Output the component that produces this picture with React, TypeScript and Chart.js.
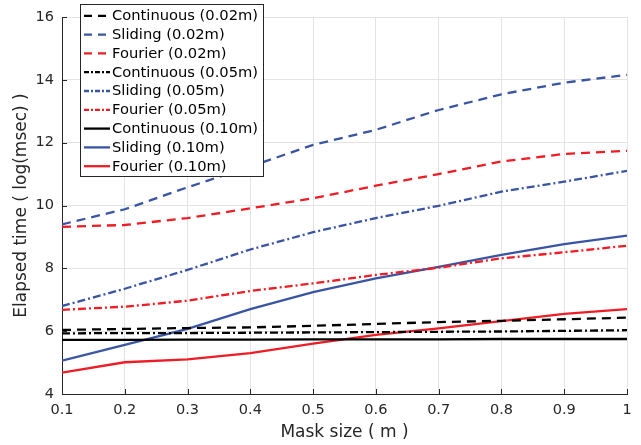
import React, { useEffect, useRef } from "react";
import { Chart, registerables } from "chart.js";

Chart.register(...registerables);

const maskSize = [0.1, 0.2, 0.3, 0.4, 0.5, 0.6, 0.7, 0.8, 0.9, 1.0];
const cont002 = [6.04, 6.07, 6.1, 6.12, 6.17, 6.23, 6.29, 6.33, 6.38, 6.43];
const slid002 = [9.4, 9.88, 10.58, 11.24, 11.93, 12.41, 13.04, 13.54, 13.91, 14.16];
const four002 = [9.32, 9.38, 9.6, 9.91, 10.23, 10.63, 11.0, 11.4, 11.64, 11.74];
const cont005 = [5.93, 5.94, 5.94, 5.95, 5.96, 5.97, 5.98, 5.99, 6.01, 6.03];
const slid005 = [6.8, 7.35, 7.95, 8.6, 9.15, 9.6, 9.99, 10.44, 10.76, 11.1];
const four005 = [6.68, 6.78, 6.97, 7.28, 7.52, 7.79, 8.02, 8.32, 8.51, 8.72];
const cont010 = [5.72, 5.72, 5.73, 5.73, 5.74, 5.74, 5.74, 5.75, 5.75, 5.75];
const slid010 = [5.06, 5.56, 6.07, 6.7, 7.24, 7.68, 8.05, 8.43, 8.77, 9.04];
const four010 = [4.68, 5.01, 5.1, 5.3, 5.6, 5.88, 6.09, 6.32, 6.55, 6.7];

const seriesLabels = [
  "Continuous (0.02m)",
  "Sliding (0.02m)",
  "Fourier (0.02m)",
  "Continuous (0.05m)",
  "Sliding (0.05m)",
  "Fourier (0.05m)",
  "Continuous (0.10m)",
  "Sliding (0.10m)",
  "Fourier (0.10m)",
];
const yTicks = [4, 6, 8, 10, 12, 14, 16];
const xTitle = "Mask size ( m )";
const yTitle = "Elapsed time ( log(msec) )";

const BLACK = "#000000";
const BLUE = "#3a54a4";
const RED = "#ee1d25";
const DASH = [9, 6];
const DASHDOT = [8, 3, 2, 3];
const FONT = "'DejaVu Sans', sans-serif";
const TEXT = "#262626";

const legendPlugin = {
  id: "boxLegend",
  afterDraw(chart: any) {
    const ctx = chart.ctx;
    const x0 = 80.5, y0 = 4.5, x1 = 263.5, y1 = 176.5;
    ctx.save();
    ctx.fillStyle = "#ffffff";
    ctx.fillRect(x0, y0, x1 - x0, y1 - y0);
    ctx.strokeStyle = TEXT;
    ctx.lineWidth = 1;
    ctx.setLineDash([]);
    ctx.strokeRect(x0, y0, x1 - x0, y1 - y0);
    chart.data.datasets.forEach((ds: any, i: number) => {
      const cy = 15.8 + i * 18.8;
      ctx.beginPath();
      ctx.strokeStyle = ds.borderColor;
      ctx.lineWidth = ds.borderWidth;
      ctx.setLineDash(ds.borderDash && ds.borderDash.length ? [7, 4] .concat([]) && (ds.borderDash.length === 2 ? [8, 6] : [5, 2, 2, 2]) : []);
      ctx.moveTo(84, cy);
      ctx.lineTo(110, cy);
      ctx.stroke();
      ctx.setLineDash([]);
      ctx.fillStyle = "#000000";
      ctx.font = `14.7px ${FONT}`;
      ctx.textBaseline = "middle";
      ctx.textAlign = "left";
      ctx.fillText(ds.label, 112, cy + 0.5);
    });
    ctx.restore();
  },
};

const innerTicksPlugin = {
  id: "innerTicks",
  afterDatasetsDraw(chart: any) {
    const ctx = chart.ctx;
    const { left, bottom } = chart.chartArea;
    const xs = chart.scales.x;
    const ys = chart.scales.y;
    ctx.save();
    ctx.strokeStyle = TEXT;
    ctx.lineWidth = 1;
    ctx.setLineDash([]);
    ctx.beginPath();
    xs.ticks.forEach((t: any) => {
      const px = Math.round(xs.getPixelForValue(t.value)) + 0.5;
      ctx.moveTo(px, bottom);
      ctx.lineTo(px, bottom - 5);
    });
    ys.ticks.forEach((t: any) => {
      const py = Math.round(ys.getPixelForValue(t.value)) + 0.5;
      ctx.moveTo(left, py);
      ctx.lineTo(left + 5, py);
    });
    ctx.stroke();
    ctx.restore();
  },
};

export default function App() {
  const ref = useRef<HTMLCanvasElement>(null);
  useEffect(() => {
    const values = [cont002, slid002, four002, cont005, slid005, four005, cont010, slid010, four010];
    const colors = [BLACK, BLUE, RED, BLACK, BLUE, RED, BLACK, BLUE, RED];
    const dashes = [DASH, DASH, DASH, DASHDOT, DASHDOT, DASHDOT, [], [], []];
    const chart = new Chart(ref.current as HTMLCanvasElement, {
      type: "line",
      data: {
        datasets: values.map((v, i) => ({
          label: seriesLabels[i],
          data: v.map((y, j) => ({ x: maskSize[j], y })),
          borderColor: colors[i],
          backgroundColor: colors[i],
          borderWidth: 2.3,
          borderDash: dashes[i],
          pointRadius: 0,
          tension: 0,
          fill: false,
        })),
      },
      options: {
        animation: false,
        responsive: false,
        devicePixelRatio: 1,
        layout: { padding: { left: 0, top: 17, right: 14, bottom: 0 } },
        plugins: { legend: { display: false }, tooltip: { enabled: false } },
        scales: {
          x: {
            type: "linear",
            min: 0.1,
            max: 1,
            afterFit: (s: any) => { s.height = 51; },
            afterBuildTicks: (s: any) => {
              s.ticks = maskSize.map((v) => ({ value: v }));
            },
            ticks: {
              color: TEXT,
              font: { family: FONT, size: 14.5 },
              padding: 8,
              maxRotation: 0,
              callback: (v: any) => String(Number(Number(v).toFixed(1))),
            },
            grid: { color: "#e3e3e3", drawTicks: false, lineWidth: 1 },
            border: { color: TEXT, width: 1 },
            title: {
              display: true,
              text: xTitle,
              color: TEXT,
              font: { family: FONT, size: 17 },
              padding: { top: 0, bottom: 2 },
            },
          },
          y: {
            type: "linear",
            min: 4,
            max: 16,
            afterFit: (s: any) => { s.width = 62; },
            afterBuildTicks: (s: any) => {
              s.ticks = yTicks.map((v) => ({ value: v }));
            },
            ticks: {
              color: TEXT,
              font: { family: FONT, size: 14.5 },
              padding: 8,
            },
            grid: { color: "#e3e3e3", drawTicks: false, lineWidth: 1 },
            border: { color: TEXT, width: 1 },
            title: {
              display: true,
              text: yTitle,
              color: TEXT,
              font: { family: FONT, size: 17 },
              padding: { top: 11, bottom: 0 },
            },
          },
        },
      },
      plugins: [innerTicksPlugin, legendPlugin],
    } as any);
    return () => chart.destroy();
  }, []);
  return (
    <div style={{ position: "fixed", left: 0, top: 0, width: 641, height: 445, background: "#fff" }}>
      <canvas ref={ref} width={641} height={445} style={{ display: "block" }} />
    </div>
  );
}
